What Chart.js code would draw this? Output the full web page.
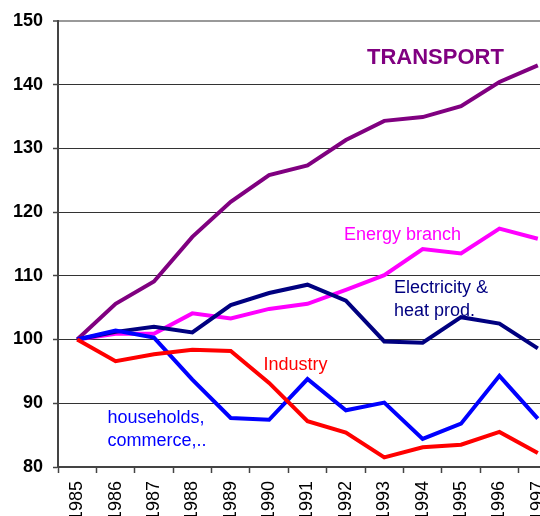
<!DOCTYPE html>
<html>
<head>
<meta charset="utf-8">
<script src="https://cdn.jsdelivr.net/npm/chart.js@4/dist/chart.umd.min.js"></script>
<style>
  html, body { margin: 0; padding: 0; background: #fff; overflow: hidden; }
  #wrap { position: absolute; left: 0; top: 0; width: 560px; height: 530px; }
</style>
</head>
<body>
<div id="wrap"><canvas id="emissionsChart" width="560" height="530"></canvas></div>
<script>
const years = ['1985', '1986', '1987', '1988', '1989', '1990', '1991', '1992', '1993', '1994', '1995', '1996', '1997'];
const yTicks = [80, 90, 100, 110, 120, 130, 140, 150];

const transport = [100, 105.6, 109.1, 116.1, 121.6, 125.8, 127.3, 131.3, 134.3, 134.9, 136.6, 140.4, 143.0];
const energyBranch = [100, 100.9, 100.9, 104.1, 103.3, 104.8, 105.6, 107.8, 110.1, 114.2, 113.5, 117.4, 115.8];
const electricityHeat = [100, 101.2, 102.0, 101.1, 105.4, 107.3, 108.6, 106.1, 99.7, 99.5, 103.5, 102.5, 98.6];
const households = [100, 101.4, 100.3, 93.7, 87.7, 87.4, 93.8, 88.9, 90.1, 84.4, 86.8, 94.3, 87.6];
const industry = [100, 96.6, 97.7, 98.4, 98.2, 93.2, 87.2, 85.4, 81.5, 83.1, 83.5, 85.5, 82.2];

const FONT = '"Liberation Sans", Arial, sans-serif';

// series names written straight onto the plot
const seriesLabels = [
  { lines: ['TRANSPORT'], x: 367, y: 64, color: '#800080', bold: true, size: 22 },
  { lines: ['Energy branch'], x: 344, y: 240, color: '#ff00ff', size: 18 },
  { lines: ['Electricity &', 'heat prod.'], x: 394, y: 292.5, color: '#000080', size: 18 },
  { lines: ['Industry'], x: 263.5, y: 369.5, color: '#ff0000', size: 18 },
  { lines: ['households,', 'commerce,..'], x: 107.5, y: 423, color: '#0000ff', size: 18 }
];

const inlineLabels = {
  id: 'inlineLabels',
  afterDatasetsDraw(chart) {
    const ctx = chart.ctx;
    ctx.save();
    ctx.textAlign = 'left';
    ctx.textBaseline = 'alphabetic';
    seriesLabels.forEach(l => {
      ctx.fillStyle = l.color;
      ctx.font = (l.bold ? 'bold ' : '') + l.size + 'px ' + FONT;
      l.lines.forEach((t, i) => ctx.fillText(t, l.x, l.y + i * 23));
    });
    ctx.restore();
  }
};

function line(label, data, color, order) {
  return {
    label: label,
    data: data,
    borderColor: color,
    backgroundColor: color,
    borderWidth: 4,
    pointRadius: 0,
    tension: 0,
    fill: false,
    order: order
  };
}

new Chart(document.getElementById('emissionsChart'), {
  type: 'line',
  data: {
    labels: years,
    datasets: [
      line('Industry', industry, '#ff0000', 1),
      line('households, commerce,..', households, '#0000ff', 2),
      line('Electricity & heat prod.', electricityHeat, '#000080', 3),
      line('Energy branch', energyBranch, '#ff00ff', 4),
      line('TRANSPORT', transport, '#800080', 5)
    ]
  },
  options: {
    responsive: false,
    animation: false,
    devicePixelRatio: 1,
    layout: { padding: { top: 20, right: 3, bottom: 0, left: 0 } },
    plugins: {
      legend: { display: false },
      tooltip: { enabled: false }
    },
    scales: {
      x: {
        type: 'category',
        offset: true,
        afterFit: s => {
          s.height = 63;
          // the year labels sit inside their slots, no extra side room needed
          s.paddingLeft = 0;
          s.paddingRight = 0;
        },
        border: { display: true, color: '#444', width: 2 },
        grid: {
          offset: true,
          drawOnChartArea: false,
          drawTicks: true,
          tickLength: 6,
          tickColor: '#444',
          tickWidth: 1.5
        },
        ticks: {
          autoSkip: false,
          minRotation: 90,
          maxRotation: 90,
          padding: 8,
          color: '#000',
          font: { family: FONT, size: 18 }
        }
      },
      y: {
        min: 80,
        max: 150,
        afterFit: s => { s.width = 58; },
        afterBuildTicks: s => { s.ticks = yTicks.map(v => ({ value: v })); },
        border: { display: true, color: '#444', width: 2 },
        grid: {
          color: c => (c.tick && c.tick.value === 150) ? '#999' : '#333',
          lineWidth: c => (c.tick && c.tick.value === 150) ? 2 : 1,
          tickLength: 5,
          tickColor: '#444',
          tickWidth: 1.5
        },
        ticks: {
          padding: 10,
          color: '#000',
          font: { family: FONT, size: 18, weight: 'bold' }
        }
      }
    }
  },
  plugins: [inlineLabels]
});
</script>
</body>
</html>
